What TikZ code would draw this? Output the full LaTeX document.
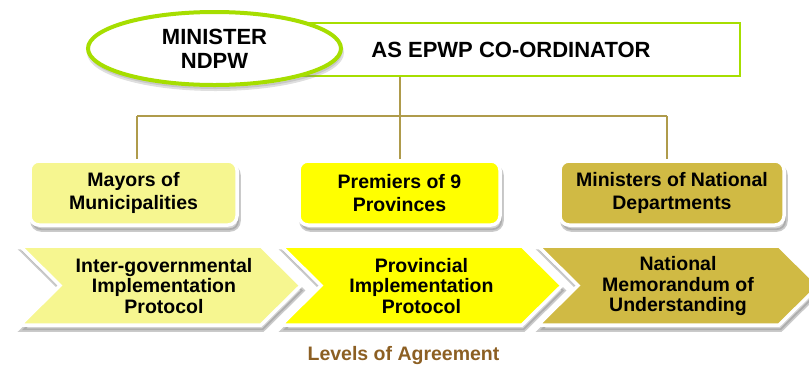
\documentclass[tikz,border=0pt]{standalone}
\usepackage{fontspec}
\setmainfont{Liberation Sans}
\usepackage{xcolor}
\usetikzlibrary{shapes,positioning,shadows}
\definecolor{limegreen}{RGB}{166,222,0}
\definecolor{paleyellow}{RGB}{246,246,144}
\definecolor{brightyellow}{RGB}{255,255,0}
\definecolor{olivegold}{RGB}{208,186,68}
\definecolor{linkline}{RGB}{175,155,75}
\definecolor{labelbrown}{RGB}{140,95,35}

\begin{document}
\begin{tikzpicture}[x=1pt, y=-1pt,
            role/.style={rectangle, rounded corners=9pt, draw=white, line width=3.5pt, minimum height=64pt, text centered, align=center, font=\fontsize{19.5}{22.5}\selectfont\bfseries, drop shadow={shadow xshift=2pt, shadow yshift=-5pt, opacity=0.35, draw=black!60, line width=3.5pt}},
            chev/.style={draw=white, line width=3.5pt, line join=miter, drop shadow={shadow xshift=2pt, shadow yshift=-5pt, opacity=0.35, draw=black!60, line width=3.5pt}},
            chevtext/.style={align=center, font=\fontsize{19.5}{20.5}\selectfont\bfseries},
            link/.style={draw=linkline, line width=1.2pt}
        ]
        \useasboundingbox (0,0) rectangle (809,365);

        % Co-ordinator
        \node[rectangle, draw=limegreen, line width=2.5pt, fill=white, minimum width=458pt, minimum height=53pt, font=\fontsize{22}{24}\selectfont\bfseries] (epwp) at (511,49.5) {AS EPWP CO-ORDINATOR};
        \node[ellipse, draw=limegreen, line width=4pt, fill=white, inner sep=0pt, minimum width=253pt, minimum height=73pt, align=center, font=\fontsize{22}{24}\selectfont\bfseries, drop shadow={shadow xshift=1pt, shadow yshift=-4pt, opacity=0.25, draw=black!50, line width=4pt}] (minister) at (214.5,48.5) {MINISTER\\NDPW};

        % Signatories
        \node[role, fill=paleyellow, minimum width=207pt] (mayors) at (133.5,193) {Mayors of\\Municipalities};
        \node[role, fill=brightyellow, minimum width=201pt] (premiers) at (399.5,193) {Premiers of 9\\Provinces};
        \node[role, fill=olivegold, minimum width=224pt] (ministers) at (672,193) {Ministers of National\\Departments};

        % Links
        \coordinate (hub) at (400,116);
        \coordinate (hubL) at (137,116);
        \coordinate (hubR) at (667,116);
        \draw[link] (epwp.south -| hub) -- (hub);
        \draw[link] (hubL) -- (hubR);
        \draw[link] (hubL) -- (hubL |- mayors.north);
        \draw[link] (hub) -- (hub |- premiers.north);
        \draw[link] (hubR) -- (hubR |- ministers.north);

        % Agreements
        \draw[chev, fill=paleyellow] (20,246) -- (261,246) -- (301,285.5) -- (261,325) -- (20,325) -- (60,285.5) -- cycle;
        \draw[chev, fill=brightyellow] (281,246) -- (522,246) -- (562,285.5) -- (522,325) -- (281,325) -- (321,285.5) -- cycle;
        \draw[chev, fill=olivegold] (538,246) -- (779,246) -- (819,285.5) -- (779,325) -- (538,325) -- (578,285.5) -- cycle;
        \node[chevtext] (chevInter) at (164,286) {Inter-governmental\\Implementation\\Protocol};
        \node[chevtext] (chevProv) at (421.5,286) {Provincial\\Implementation\\Protocol};
        \node[chevtext] (chevNat) at (678,286) {National\\Memorandum of\\Understanding};

        \node[font=\fontsize{19.5}{22}\selectfont\bfseries, text=labelbrown] (levels) at (403.5,355) {Levels of Agreement};

        \end{tikzpicture}
\end{document}
